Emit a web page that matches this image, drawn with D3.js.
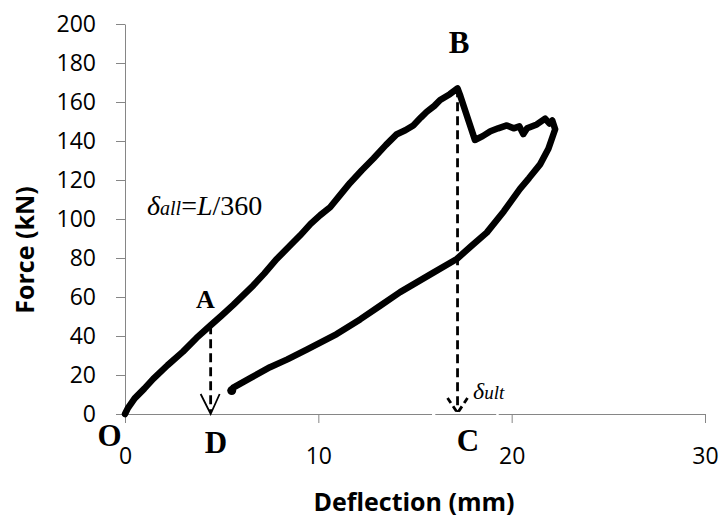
<!DOCTYPE html>
<html>
<head>
<meta charset="utf-8">
<script src="https://cdn.jsdelivr.net/npm/d3@7"></script>
<style>
  body { margin: 0; background: #fff; }
  svg { display: block; }
</style>
</head>
<body>
<div id="chart"></div>
<script>
  // DATA (deflection in mm, force in kN)
  var loadDefl  = [0, 0.15, 0.5, 1.0, 1.46, 2.2, 3.0, 3.7, 4.43, 5.0, 5.6, 6.64, 7.2, 7.85, 8.5, 9.05, 9.6, 10.1, 10.61, 11.1, 11.64, 12.25, 12.85, 13.5, 14.06, 14.5, 14.91, 15.3, 15.61, 16.0, 16.3, 16.8, 17.2];
  var loadForce = [0, 3, 8, 13, 18, 25, 32, 39, 45.5, 50.5, 56, 66, 72, 79.5, 86, 91.5, 97.5, 102, 106, 112, 118.5, 125, 131, 138, 143.5, 145.5, 148, 152, 155, 158, 161, 164, 167];

  var softDefl  = [17.35, 18.1, 18.5, 18.9, 19.3, 19.75, 20.1, 20.4, 20.6, 20.8, 21.3, 21.73, 21.95, 22.1, 22.25];
  var softForce = [163, 140.5, 142.5, 145, 146.5, 148, 146.5, 147.5, 143.5, 146.5, 148.5, 151.5, 149, 150.5, 146];

  var unloadDefl  = [21.9, 21.47, 20.9, 20.43, 19.6, 18.71, 17.9, 17.16, 15.95, 14.23, 13.2, 12.16, 10.95, 9.4, 8.4, 7.5, 6.5, 5.6, 5.52];
  var unloadForce = [136, 128, 121, 115.5, 104, 93, 86, 79.5, 72.5, 62.5, 55.5, 48.5, 41, 33, 28, 24, 18.5, 13.5, 12];

  var xTicks = [0, 10, 20, 30];
  var yTicks = [0, 20, 40, 60, 80, 100, 120, 140, 160, 180, 200];

  // point A (allowable deflection) and point B (peak load)
  var pointA = {defl: 4.43, force: 45.5};
  var pointB = {defl: 17.2, force: 167};

  var letters = [
    {text: 'A', defl: 4.16,  force: 54.4,  size: 26},
    {text: 'B', defl: 17.28, force: 185.1, size: 31},
    {text: 'C', defl: 17.74, force: -19,   size: 31},
    {text: 'D', defl: 4.71,  force: -20,   size: 31},
    {text: 'O', defl: -0.8,  force: -16.4, size: 31}
  ];

  // white breaks in the x axis line (behind text boxes)
  var axisBreaks = [[15.88, 16.05], [19.2, 19.33]];

  // SVG
  var width = 728, height = 521;
  var svg = d3.select('#chart')
    .append('svg')
    .attr('width', width)
    .attr('height', height);

  var x = d3.scaleLinear().domain([0, 30]).range([125, 705]);
  var y = d3.scaleLinear().domain([0, 200]).range([414, 24]);

  var axisGrey = '#868686';
  var tickFont = "'Open Sans', sans-serif";
  var serif = "'Liberation Serif', serif";

  // x axis
  var gx = svg.append('g')
    .attr('transform', 'translate(0,' + y(0) + ')')
    .call(d3.axisBottom(x).tickValues(xTicks).tickSize(9).tickSizeOuter(0).tickPadding(25));
  // y axis
  var gy = svg.append('g')
    .attr('transform', 'translate(' + x(0) + ',0)')
    .call(d3.axisLeft(y).tickValues(yTicks).tickSize(9).tickSizeOuter(0).tickPadding(20));

  [gx, gy].forEach(function(g) {
    g.attr('font-family', tickFont).attr('font-size', 23);
    g.select('.domain').attr('stroke', axisGrey);
    g.selectAll('.tick line').attr('stroke', axisGrey);
    g.selectAll('.tick text').attr('fill', '#000');
  });

  svg.selectAll('rect.gap')
    .data(axisBreaks)
    .enter()
    .append('rect')
    .classed('gap', true)
    .attr('x', function(d) { return x(d[0]); })
    .attr('width', function(d) { return x(d[1]) - x(d[0]); })
    .attr('y', y(0) - 2)
    .attr('height', 4)
    .attr('fill', '#fff');

  // axis titles
  svg.append('text')
    .attr('transform', 'translate(34,250)rotate(-90)')
    .attr('text-anchor', 'middle')
    .attr('font-family', tickFont)
    .attr('font-weight', 'bold')
    .attr('font-size', 25)
    .text('Force (kN)');

  svg.append('text')
    .attr('x', 414)
    .attr('y', 511)
    .attr('text-anchor', 'middle')
    .attr('font-family', tickFont)
    .attr('font-weight', 'bold')
    .attr('font-size', 25)
    .text('Deflection (mm)');

  // dashed drop lines with arrow heads
  var dash = '9,5';
  svg.append('line')
    .attr('x1', x(pointA.defl)).attr('x2', x(pointA.defl))
    .attr('y1', y(pointA.force)).attr('y2', y(0) - 2)
    .attr('stroke', '#000').attr('stroke-width', 2.8)
    .attr('stroke-dasharray', dash);
  svg.append('path')
    .attr('d', 'M' + (x(pointA.defl) - 10) + ',' + (y(0) - 20) +
               'L' + x(pointA.defl) + ',' + y(0) +
               'L' + (x(pointA.defl) + 9) + ',' + (y(0) - 20))
    .attr('fill', 'none').attr('stroke', '#000').attr('stroke-width', 1.8);

  svg.append('line')
    .attr('x1', x(pointB.defl)).attr('x2', x(pointB.defl))
    .attr('y1', y(pointB.force)).attr('y2', y(0) - 2)
    .attr('stroke', '#000').attr('stroke-width', 2.8)
    .attr('stroke-dasharray', dash);
  svg.append('path')
    .attr('d', 'M' + (x(pointB.defl) - 10) + ',' + (y(0) - 16) +
               'L' + x(pointB.defl) + ',' + (y(0) - 1) +
               'L' + (x(pointB.defl) + 10) + ',' + (y(0) - 16))
    .attr('fill', 'none').attr('stroke', '#000').attr('stroke-width', 2.8)
    .attr('stroke-dasharray', '6,4');

  // load-deflection curve
  var pts = [];
  [[loadDefl, loadForce], [softDefl, softForce], [unloadDefl, unloadForce]].forEach(function(s) {
    s[0].forEach(function(d, i) { pts.push([d, s[1][i]]); });
  });
  var line = d3.line()
    .x(function(d) { return x(d[0]); })
    .y(function(d) { return y(d[1]); });

  svg.append('path')
    .datum(pts)
    .attr('d', line)
    .attr('fill', 'none')
    .attr('stroke', '#000')
    .attr('stroke-width', 6.5)
    .attr('stroke-linejoin', 'round')
    .attr('stroke-linecap', 'round');

  var last = pts[pts.length - 1];
  svg.append('circle')
    .attr('cx', x(last[0])).attr('cy', y(last[1]))
    .attr('r', 4.5).attr('fill', '#000');

  // letter labels
  svg.selectAll('text.letter')
    .data(letters)
    .enter()
    .append('text')
    .classed('letter', true)
    .attr('x', function(d) { return x(d.defl); })
    .attr('y', function(d) { return y(d.force); })
    .attr('text-anchor', 'middle')
    .attr('font-family', serif)
    .attr('font-weight', 'bold')
    .attr('font-size', function(d) { return d.size; })
    .text(function(d) { return d.text; });

  // delta labels
  var tAll = svg.append('text')
    .attr('x', x(1.14)).attr('y', y(102))
    .attr('font-family', serif)
    .attr('font-size', 28);
  tAll.append('tspan').attr('font-style', 'italic').text('δ');
  tAll.append('tspan').attr('font-style', 'italic').attr('font-size', 20).text('all');
  tAll.append('tspan').text('=');
  tAll.append('tspan').attr('font-style', 'italic').text('L');
  tAll.append('tspan').text('/360');

  var tUlt = svg.append('text')
    .attr('x', x(18.0)).attr('y', y(7.7))
    .attr('font-family', serif)
    .attr('font-size', 24);
  tUlt.append('tspan').attr('font-style', 'italic').text('δ');
  tUlt.append('tspan').attr('font-style', 'italic').attr('font-size', 19).text('ult');
</script>
</body>
</html>
